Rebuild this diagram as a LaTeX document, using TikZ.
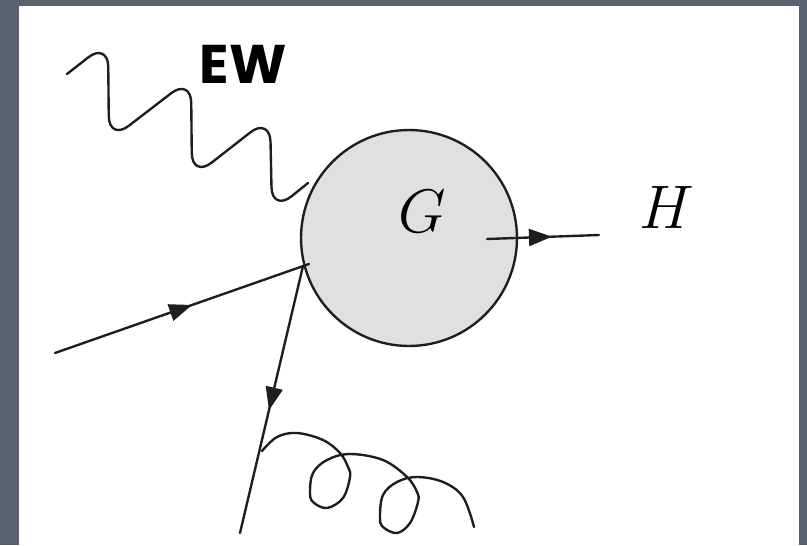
\RequirePackage{fix-cm}
\documentclass[tikz,border=0pt]{standalone}
\usepackage{fontspec}
\newfontfamily\ewfont{Poppins}
\usetikzlibrary{arrows.meta,decorations.markings}
\definecolor{Slate}{HTML}{5C6172}
\definecolor{Blob}{HTML}{E0E0E0}
\definecolor{Ink}{HTML}{1E1E1E}
\tikzset{
  line/.style={line width=1.35pt,draw=Ink,line cap=round},
  midarrow/.style={line,postaction={decorate},
    decoration={markings,mark=at position #1 with {\arrow{Triangle[length=4.6mm,width=3.4mm]}}}},
  blob/.style={circle,draw=Ink,line width=1.35pt,fill=Blob,minimum size=4.32cm,inner sep=0pt},
  lbl/.style={font=\fontsize{35}{40}\selectfont,inner sep=0pt}
}

\begin{document}
\begin{tikzpicture}[x=0.02cm,y=0.02cm]
  \useasboundingbox (0,0) rectangle (807,545);
  \fill[Slate] (0,0) rectangle (807,545);
  \fill[white] (19,0) rectangle (799,539);
  % blob and labels
  \node[blob] (blob) at (409,307) {};
  \node[lbl] (glab) at (422,334) {$G$};
  \node[lbl] (hlab) at (667,338) {$H$};
  \node[font=\ewfont\bfseries\fontsize{31}{36}\selectfont,inner sep=0pt] (ew) at (243,481) {EW};
  % end points
  \coordinate (qin) at (55,192);
  \coordinate (vin) at (309,281);
  \coordinate (vout) at (303,279);
  \coordinate (qout) at (240,12);
  \coordinate (hs) at (487,306);
  \coordinate (he) at (599,310);
  \draw[midarrow=0.58] (hs)--(he);
  \draw[midarrow=0.54] (qin)--(vin);
  \draw[midarrow=0.54] (vout)--(qout);
  % photon
  \draw[line,rounded corners=0.5cm] (67,471) -- (108,503) -- (109,404) -- (191,467)
    -- (192,367) -- (270,428) -- (272,333) -- (308,362);
  % gluon
  \draw[line] plot[smooth,tension=0.6] coordinates {(262,94) (277,108) (297,112) (323,105) (340,92) (348,78) (350,68) (343,47) (327,37) (313,43) (310,53) (313,72) (327,85) (350,91) (383,85) (407,68) (417,53) (418,43) (410,22) (397,12) (383,18) (380,28) (383,50) (397,63) (417,68) (443,63) (463,48) (474,18)};
\end{tikzpicture}
\end{document}
